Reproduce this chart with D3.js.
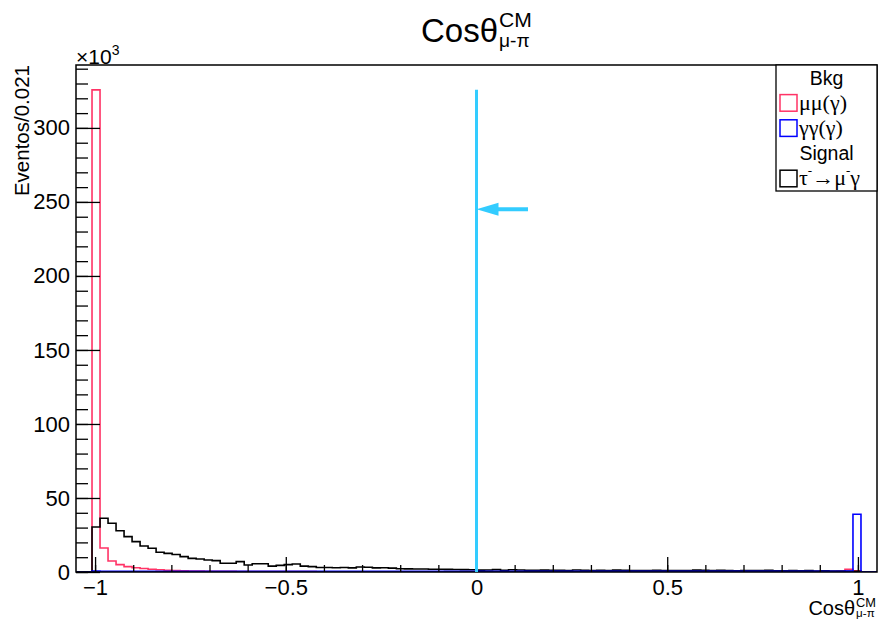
<!DOCTYPE html>
<html>
<head>
<meta charset="utf-8">
<script src="https://cdn.jsdelivr.net/npm/d3@7"></script>
<style>
  body { margin: 0; background: #fff; }
  svg { display: block; }
  text { font-family: "Liberation Sans", Arial, sans-serif; fill: #000; }
  .greek { font-family: "Liberation Serif", "DejaVu Serif", serif; }
</style>
</head>
<body>
<svg width="878" height="620"></svg>
<script>
// histogram binning: 100 bins of 0.021 from -1.05 to 1.05
const xMin = -1.05, xMax = 1.05, binWidth = 0.021;

// bin contents, in units of 10^3 events
const mumuCounts = [
    0, 0, 325.7, 16.2, 7.4, 5.0, 3.6, 2.9, 2.4, 1.9,
    1.5, 1.2, 1.0, 0.8, 0.7, 0.6, 0.5, 0.5, 0.4, 0.4,
    0.3, 0.3, 0.3, 0.3, 0.3, 0.3, 0.3, 0.3, 0.3, 0.3,
    0.2, 0.2, 0.2, 0.2, 0.2, 0.2, 0.2, 0.2, 0.2, 0.2,
    0.2, 0.2, 0.2, 0.2, 0.2, 0.2, 0.2, 0.2, 0.2, 0.2,
    0.2, 0.2, 0.2, 0.2, 0.2, 0.2, 0.2, 0.2, 0.2, 0.2,
    0.2, 0.2, 0.2, 0.2, 0.2, 0.2, 0.2, 0.2, 0.2, 0.2,
    0.2, 0.2, 0.2, 0.2, 0.2, 0.2, 0.2, 0.2, 0.2, 0.2,
    0.2, 0.2, 0.2, 0.2, 0.2, 0.2, 0.2, 0.2, 0.2, 0.2,
    0.2, 0.2, 0.3, 0.3, 0.3, 0.5, 1.8, 0.8, 0, 0
];
const gammaCounts = [
    0, 0, 0.6, 0.5, 0.5, 0.5, 0.4, 0.4, 0.4, 0.4,
    0.4, 0.4, 0.4, 0.4, 0.4, 0.4, 0.4, 0.4, 0.4, 0.4,
    0.4, 0.4, 0.4, 0.4, 0.4, 0.4, 0.4, 0.4, 0.4, 0.4,
    0.4, 0.4, 0.4, 0.4, 0.4, 0.4, 0.4, 0.4, 0.4, 0.4,
    0.4, 0.4, 0.4, 0.4, 0.4, 0.5, 0.5, 0.5, 0.5, 0.5,
    0.5, 0.5, 0.5, 0.4, 0.4, 0.4, 0.4, 0.4, 0.4, 0.4,
    0.4, 0.4, 0.4, 0.4, 0.4, 0.4, 0.4, 0.4, 0.4, 0.4,
    0.4, 0.4, 0.4, 0.4, 0.4, 0.4, 0.4, 0.4, 0.4, 0.4,
    0.4, 0.4, 0.4, 0.4, 0.4, 0.4, 0.4, 0.4, 0.4, 0.4,
    0.4, 0.4, 0.4, 0.4, 0.4, 0.5, 0.6, 39.0, 0, 0
];
const signalCounts = [
    0, 0, 30.4, 36.3, 32.9, 27.9, 23.9, 20.5, 17.6, 16.0,
    13.3, 12.6, 11.8, 10.4, 9.2, 8.8, 8.1, 7.7, 5.9, 5.9,
    7.0, 4.7, 5.6, 5.6, 4.0, 4.5, 5.0, 5.4, 4.0, 3.6,
    3.0, 3.0, 2.9, 3.0, 2.8, 3.4, 3.2, 2.8, 2.9, 2.6,
    2.2, 2.1, 2.0, 2.0, 1.9, 1.9, 1.8, 1.7, 1.6, 1.5,
    1.3, 1.4, 1.6, 1.2, 1.5, 1.4, 1.2, 1.2, 1.3, 1.1,
    1.2, 1.0, 1.4, 1.2, 1.0, 1.1, 1.0, 1.3, 1.2, 1.0,
    0.9, 1.0, 1.2, 1.0, 0.9, 1.0, 0.9, 1.3, 1.1, 0.9,
    1.1, 1.0, 0.8, 0.9, 1.0, 0.9, 1.1, 0.8, 0.8, 0.9,
    0.8, 0.9, 0.7, 0.8, 0.7, 0.6, 0.5, 0.4, 0, 0
];

const xMajorTicks = [-1, -0.5, 0, 0.5, 1];
const xTickLabels = ["\u22121", "\u22120.5", "0", "0.5", "1"];
const yMajorTicks = [0, 50, 100, 150, 200, 250, 300];
const yTickLabels = ["0", "50", "100", "150", "200", "250", "300"];
const yMax = 342.5;

// cut marker (vertical line at the cut, arrow showing the kept side)
const cutValue = 0;
const cutTop = 325.7;
const arrowFrom = 0.135, arrowY = 245;

const legendRows = [
    { label: "Bkg", header: true },
    { label: "mumu", color: "#ff3366" },
    { label: "gg", color: "#0000ff" },
    { label: "Signal", header: true },
    { label: "tau", color: "#000000" }
];

const svg = d3.select("svg");
const frame = { left: 76, right: 877, top: 65, bottom: 572 };

const x = d3.scaleLinear().domain([xMin, xMax]).range([frame.left, frame.right]);
const y = d3.scaleLinear().domain([0, yMax]).range([frame.bottom, frame.top]);

svg.append("defs").append("clipPath").attr("id", "clip")
    .append("rect")
    .attr("x", frame.left).attr("y", frame.top)
    .attr("width", frame.right - frame.left).attr("height", frame.bottom - frame.top);

function stepPath(counts) {
    let pts = [];
    for (let i = 0; i < counts.length; i++) {
        const xa = x(xMin + i * binWidth);
        const xb = x(xMin + (i + 1) * binWidth);
        pts.push([xa, y(counts[i])], [xb, y(counts[i])]);
    }
    return d3.line()(pts);
}

const plot = svg.append("g").attr("clip-path", "url(#clip)");

plot.append("path").attr("d", stepPath(mumuCounts))
    .attr("fill", "none").attr("stroke", "#ff3366").attr("stroke-width", 1.6);
plot.append("path").attr("d", stepPath(signalCounts))
    .attr("fill", "none").attr("stroke", "#000").attr("stroke-width", 1.6);
plot.append("path").attr("d", stepPath(gammaCounts))
    .attr("fill", "none").attr("stroke", "#0000ff").attr("stroke-width", 1.6);

// axes (ticks point into the frame, like ROOT); minor and major in separate groups
svg.append("g").attr("transform", `translate(0,${frame.bottom})`)
    .call(d3.axisBottom(x).tickValues(d3.range(-10, 11).map(d => d / 10)).tickSize(-7).tickFormat(""));
svg.append("g").attr("transform", `translate(0,${frame.bottom})`)
    .call(d3.axisBottom(x).tickValues(xMajorTicks).tickSize(-15).tickPadding(7)
        .tickFormat((d, i) => xTickLabels[i]));

svg.append("g").attr("transform", `translate(${frame.left},0)`)
    .call(d3.axisLeft(y).tickValues(d3.range(0, 341, 10)).tickSize(-12).tickFormat(""));
svg.append("g").attr("transform", `translate(${frame.left},0)`)
    .call(d3.axisLeft(y).tickValues(yMajorTicks).tickSize(-24).tickPadding(6)
        .tickFormat((d, i) => yTickLabels[i]));

svg.selectAll(".domain").remove();
svg.selectAll(".tick line").attr("stroke", "#000").attr("stroke-width", 1.3);
svg.selectAll(".tick text").style("font-size", "22px")
    .style("font-family", '"Liberation Sans", Arial, sans-serif');

svg.append("rect")
    .attr("x", frame.left).attr("y", frame.top)
    .attr("width", frame.right - frame.left).attr("height", frame.bottom - frame.top)
    .attr("fill", "none").attr("stroke", "#000").attr("stroke-width", 1.5);

// cut line and arrow
const cyan = "#33ccff";
svg.append("line")
    .attr("x1", x(cutValue)).attr("x2", x(cutValue))
    .attr("y1", y(0)).attr("y2", y(cutTop))
    .attr("stroke", cyan).attr("stroke-width", 3);
const ax0 = x(cutValue), ax1 = x(arrowFrom), ay = y(arrowY);
svg.append("line")
    .attr("x1", ax1).attr("x2", ax0 + 18).attr("y1", ay).attr("y2", ay)
    .attr("stroke", cyan).attr("stroke-width", 4);
svg.append("path")
    .attr("d", `M${ax0},${ay} L${ax0 + 22},${ay - 6.5} L${ax0 + 22},${ay + 6.5} Z`)
    .attr("fill", cyan);

// Cos theta with super/subscripts
function cosTheta(px, py, size, alignRight, supShift, subShift) {
    const g = svg.append("g");
    const main = g.append("text").attr("y", py).style("font-size", size + "px").text("Cos\u03b8");
    const w = main.node().getComputedTextLength();
    const sup = g.append("text").attr("y", py - size * supShift).style("font-size", (size * 0.64) + "px").text("CM");
    const sub = g.append("text").attr("y", py + size * subShift).style("font-size", (size * 0.58) + "px").text("\u03bc-\u03c0");
    const tail = Math.max(sup.node().getComputedTextLength(), sub.node().getComputedTextLength());
    const x0 = alignRight ? px - w - 1 - tail : px;
    main.attr("x", x0);
    sup.attr("x", x0 + w + 1);
    sub.attr("x", x0 + w + 1);
}
cosTheta(421, 42, 33, false, 0.46, 0.16);
cosTheta(876, 615, 20, true, 0.4, 0.12);

// y axis title and exponent
svg.append("text")
    .attr("transform", `translate(29,${frame.top}) rotate(-90)`)
    .attr("text-anchor", "end")
    .style("font-size", "20.5px")
    .text("Eventos/0.021");
const expo = svg.append("text").attr("x", frame.left).attr("y", 64).style("font-size", "21px");
expo.append("tspan").text("\u00d710");
expo.append("tspan").attr("dy", -9).style("font-size", "14px").text("3");

// legend (right edge shared with the frame)
const leg = { left: 776, right: 877, top: 65, bottom: 191 };
svg.append("rect")
    .attr("x", leg.left).attr("y", leg.top)
    .attr("width", leg.right - leg.left).attr("height", leg.bottom - leg.top)
    .attr("fill", "#fff").attr("stroke", "#000").attr("stroke-width", 1.3);

const rowH = (leg.bottom - leg.top) / legendRows.length;
legendRows.forEach((r, i) => {
    const cy = leg.top + rowH * (i + 0.5);
    if (r.header) {
        svg.append("text").attr("x", (leg.left + leg.right) / 2).attr("y", cy + 7)
            .attr("text-anchor", "middle").style("font-size", "19.5px").text(r.label);
        return;
    }
    svg.append("rect").attr("x", 780).attr("y", cy - 8.2).attr("width", 17).attr("height", 16.6)
        .attr("fill", "none").attr("stroke", r.color).attr("stroke-width", 1.5);
    const t = svg.append("text").attr("class", "greek").attr("x", 799).attr("y", cy + 7)
        .style("font-size", "22px");
    if (r.label === "mumu") t.text("\u03bc\u03bc(\u03b3)");
    else if (r.label === "gg") t.text("\u03b3\u03b3(\u03b3)");
    else {
        t.append("tspan").text("\u03c4");
        t.append("tspan").attr("dy", -10).style("font-size", "13px").text("-");
        t.append("tspan").attr("dy", 10).text("\u2192\u03bc");
        t.append("tspan").attr("dy", -10).style("font-size", "13px").text("-");
        t.append("tspan").attr("dy", 10).text("\u03b3");
    }
});
</script>
</body>
</html>
